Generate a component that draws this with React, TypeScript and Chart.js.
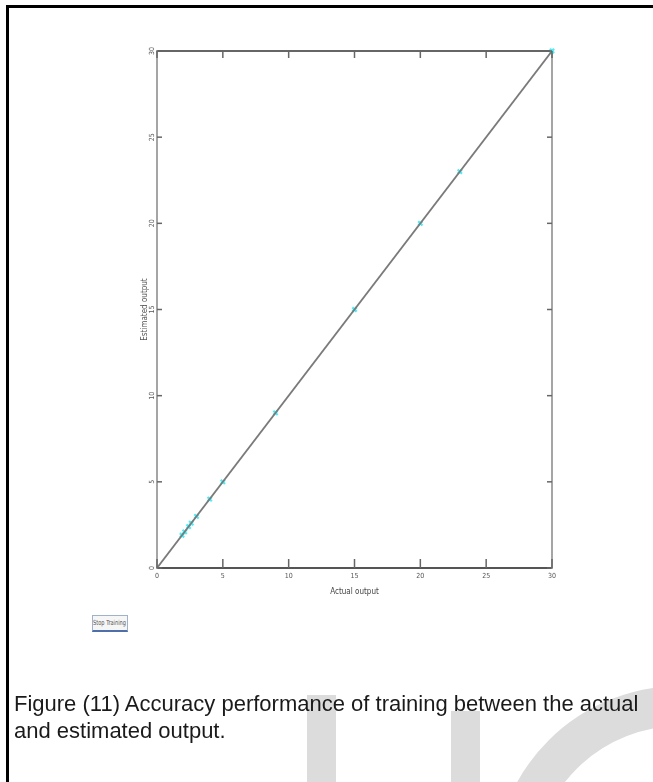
import React, { useEffect, useRef } from "react";
import { Chart, registerables } from "chart.js";

Chart.register(...registerables);

// ---- data ----
const actualOutput = [1.9, 2.1, 2.4, 2.6, 3, 4, 5, 9, 15, 20, 23, 30];
const estimatedOutput = [1.9, 2.1, 2.4, 2.6, 3, 4, 5, 9, 15, 20, 23, 30];
const fitLineX = [0, 30];
const fitLineY = [0, 30];
const axisMin = 0;
const axisMax = 30;
const tickStep = 5;
const xTitle = "Actual output";
const yTitle = "Estimated output";
const buttonLabel = "Stop Training";
const captionText =
  "Figure (11) Accuracy performance of training between the actual and estimated output.";

const tickFont = {
  family: "'Liberation Sans Narrow', 'DejaVu Sans Condensed', 'Liberation Sans', sans-serif",
  size: 7,
};

const inwardTicks = {
  id: "inwardTicks",
  afterDatasetsDraw(chart: any) {
    const { ctx, chartArea: a, scales } = chart;
    ctx.save();
    ctx.strokeStyle = "#666";
    ctx.lineWidth = 1.5;
    const seg = (x1: number, y1: number, x2: number, y2: number) => {
      ctx.beginPath();
      ctx.moveTo(x1, y1);
      ctx.lineTo(x2, y2);
      ctx.stroke();
    };
    scales.x.ticks.forEach((t: any) => {
      const px = scales.x.getPixelForValue(t.value);
      seg(px, a.bottom, px, a.bottom - 9);
      seg(px, a.top, px, a.top + 7);
    });
    scales.y.ticks.forEach((t: any) => {
      const py = scales.y.getPixelForValue(t.value);
      seg(a.left, py, a.left + 5, py);
      seg(a.right, py, a.right - 5, py);
    });
    ctx.restore();
  },
};

function ScatterChart() {
  const ref = useRef<HTMLCanvasElement | null>(null);
  useEffect(() => {
    if (!ref.current) return;
    const chart = new Chart(ref.current, {
      type: "scatter",
      data: {
        datasets: [
          {
            type: "line",
            data: fitLineX.map((x, i) => ({ x, y: fitLineY[i] })),
            borderColor: "#7a7a7a",
            borderWidth: 1.8,
            pointRadius: 0,
            fill: false,
          } as any,
          {
            data: actualOutput.map((x, i) => ({ x, y: estimatedOutput[i] })),
            pointStyle: "crossRot",
            pointRadius: 3,
            pointBorderWidth: 2.2,
            pointBorderColor: "#4cecf6",
            pointBackgroundColor: "#4cecf6",
            borderColor: "#4cecf6",
            clip: false,
          } as any,
        ],
      },
      options: {
        responsive: false,
        animation: false,
        events: [],
        layout: { padding: { left: 127, top: 51, right: 101, bottom: 174 } },
        plugins: { legend: { display: false }, tooltip: { enabled: false } },
        scales: {
          x: {
            type: "linear",
            position: "bottom",
            min: axisMin,
            max: axisMax,
            ticks: { stepSize: tickStep, font: tickFont, color: "#555", padding: 4, maxRotation: 0 },
            grid: { drawOnChartArea: false, drawTicks: false },
            border: { display: true, color: "#555", width: 2 },
            title: { display: true, text: xTitle, font: { ...tickFont, size: 8 }, color: "#444", padding: { top: 0, bottom: 11 } },
            afterFit: (s: any) => { s.height = 40; },
          },
          x2: {
            type: "linear",
            position: "top",
            min: axisMin,
            max: axisMax,
            ticks: { display: false },
            grid: { drawOnChartArea: false, drawTicks: false },
            border: { display: true, color: "#666", width: 2 },
            afterFit: (s: any) => { s.height = 0; },
          },
          y: {
            type: "linear",
            position: "left",
            min: axisMin,
            max: axisMax,
            ticks: { stepSize: tickStep, font: tickFont, color: "#555", padding: 1, minRotation: 90, maxRotation: 90, crossAlign: "center" },
            grid: { drawOnChartArea: false, drawTicks: false },
            border: { display: true, color: "#a5a5a5", width: 2 },
            title: { display: true, text: yTitle, font: { ...tickFont, size: 8 }, color: "#555", padding: { top: 13, bottom: 0 } },
            afterFit: (s: any) => { s.width = 30; },
          },
          y2: {
            type: "linear",
            position: "right",
            min: axisMin,
            max: axisMax,
            ticks: { display: false },
            grid: { drawOnChartArea: false, drawTicks: false },
            border: { display: true, color: "#a5a5a5", width: 2 },
            afterFit: (s: any) => { s.width = 0; },
          },
        },
      } as any,
      plugins: [inwardTicks],
    });
    return () => chart.destroy();
  }, []);
  return (
    <canvas
      ref={ref}
      width={653}
      height={782}
      style={{ position: "absolute", left: 0, top: 0, width: 653, height: 782 }}
    />
  );
}

export default function App() {
  const wm = "#dcdcdc";
  return (
    <div
      style={{
        position: "absolute",
        left: 0,
        top: 0,
        width: 653,
        height: 782,
        overflow: "hidden",
        background: "#fff",
      }}
    >
      {/* watermark */}
      <div style={{ position: "absolute", left: 307, top: 695, width: 29, height: 90, background: wm }} />
      <div style={{ position: "absolute", left: 451, top: 711, width: 29, height: 80, background: wm }} />
      <div
        style={{
          position: "absolute",
          left: 680 - 186,
          top: 872 - 186,
          width: 372,
          height: 372,
          borderRadius: "50%",
          border: "40px solid " + wm,
          boxSizing: "border-box",
        }}
      />
      {/* frame */}
      <div
        style={{
          position: "absolute",
          left: 6,
          top: 5,
          width: 700,
          height: 800,
          borderLeft: "3px solid #000",
          borderTop: "3px solid #000",
        }}
      />
      <ScatterChart />
      {/* button */}
      <div
        style={{
          position: "absolute",
          left: 92,
          top: 615,
          width: 36,
          height: 17,
          border: "1px solid #9fb2c8",
          borderBottom: "2px solid #4f6fa8",
          boxSizing: "border-box",
          background: "#f6f6f6",
          display: "flex",
          alignItems: "center",
          justifyContent: "center",
          overflow: "hidden",
        }}
      >
        <span
          style={{
            fontFamily: "'Liberation Sans Narrow', 'DejaVu Sans Condensed', sans-serif",
            fontSize: 7,
            color: "#555",
            whiteSpace: "nowrap",
            transform: "scaleX(0.8)",
          }}
        >
          {buttonLabel}
        </span>
      </div>
      {/* caption */}
      <div
        style={{
          position: "absolute",
          left: 14,
          top: 690,
          width: 632,
          fontFamily: "'Liberation Sans', Arial, sans-serif",
          fontSize: 22,
          lineHeight: "27px",
          color: "#1a1a1a",
        }}
      >
        {captionText}
      </div>
    </div>
  );
}
